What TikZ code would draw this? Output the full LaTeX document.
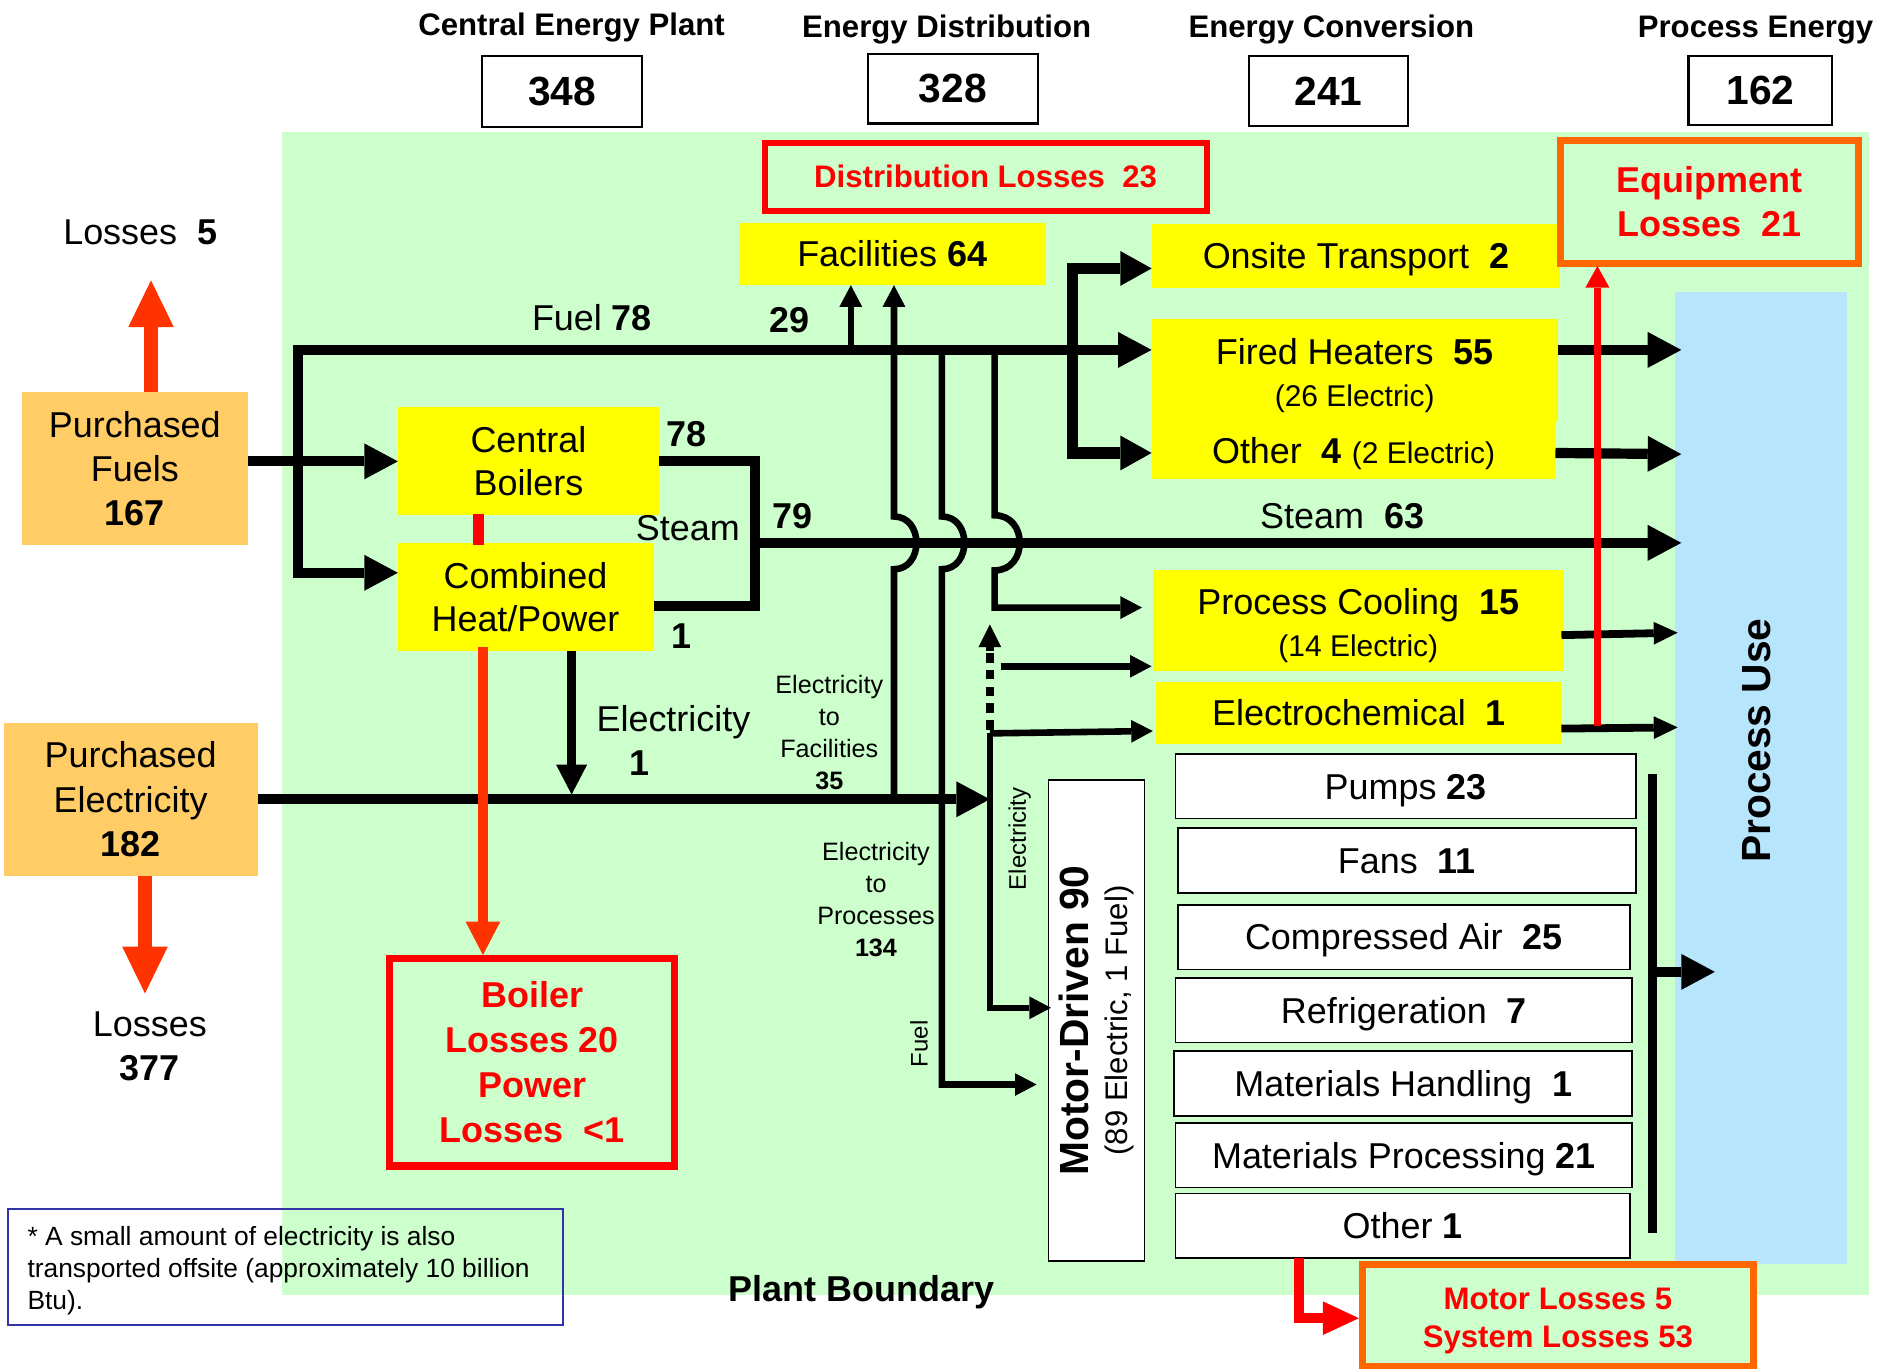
\documentclass[tikz,border=0pt]{standalone}
\usepackage{fontspec}
\setmainfont{Liberation Sans}
\usetikzlibrary{arrows.meta}
\definecolor{pgreen}{RGB}{204,255,204}
\definecolor{pyellow}{RGB}{255,255,0}
\definecolor{porange}{RGB}{255,204,102}
\definecolor{pblue}{RGB}{183,229,252}
\definecolor{lossred}{RGB}{255,0,0}
\definecolor{arrred}{RGB}{255,51,0}
\definecolor{lossorange}{RGB}{255,102,0}
\definecolor{noteblue}{RGB}{51,51,170}
\tikzset{
 fA/.style={font=\fontsize{30}{37}\selectfont},
 fAb/.style={font=\fontsize{30}{37}\selectfont\bfseries},
 fsm/.style={font=\fontsize{21}{26.7}\selectfont},
 hdr/.style={font=\fontsize{26}{30}\selectfont\bfseries},
 capc/.style={text height=21.5pt, text depth=0pt},
 numbox/.style={draw=black, line width=1.8, fill=white, font=\fontsize{34}{40}\selectfont\bfseries},
 ybox/.style={fill=pyellow, align=center, font=\fontsize{30}{36}\selectfont},
 obox/.style={fill=porange, align=center, font=\fontsize{30}{37}\selectfont},
 wbox/.style={fill=white, draw=black, line width=1.5, align=center, font=\fontsize{30}{37}\selectfont},
 lossbox/.style={fill=pgreen, align=center, text=lossred},
 bigarrow/.style={line width=8.5, -{Triangle[length=28pt,width=30pt,line width=0pt]}},
 smallarrow/.style={line width=5.5, -{Triangle[length=18pt,width=19pt,line width=0pt]}},
 midarrow/.style={line width=6.5, -{Triangle[length=20pt,width=19pt,line width=0pt]}},
 thickline/.style={line width=8.5},
}
\begin{document}
\begin{tikzpicture}[x=1pt,y=-1pt, every node/.style={inner sep=0pt,outer sep=0pt}]
\useasboundingbox (0,0) rectangle (1568,1141.6);
\fill[white] (0,0) rectangle (1568,1141.6);
% plant boundary and process use
\fill[pgreen] (235,110) rectangle (1560,1081);
\node[fill=pblue, minimum width=143, minimum height=811] (pu) at (1469.5,649.5) {};
\node[font=\fontsize{34}{40}\selectfont\bfseries, rotate=90] (putxt) at (1466,618) {Process Use};
\node[fAb] (pb) at (719,1078) {Plant Boundary};

% headers
\node[hdr] (t1) at (477,23) {Central Energy Plant};
\node[hdr] (t2) at (790,25) {Energy Distribution};
\node[hdr] (t3) at (1111,25) {Energy Conversion};
\node[hdr] (t4) at (1465,25) {Process Energy};
\node[numbox, minimum width=134, minimum height=59] (n1) at (469,76.5) {348};
\node[numbox, minimum width=142, minimum height=58] (n2) at (795,74) {328};
\node[numbox, minimum width=133, minimum height=58] (n3) at (1108.5,76) {241};
\node[numbox, minimum width=120, minimum height=57] (n4) at (1469,75.5) {162};

% purchased
\node[obox, minimum width=189, minimum height=128] (pf) at (112.5,391) {Purchased\\Fuels\\\textbf{167}};
\node[obox, minimum width=212, minimum height=128] (pe) at (109,667) {Purchased\\Electricity\\\textbf{182}};
\node[fA] (l5) at (117,194) {Losses~~\textbf{5}};
\node[fA, align=center] (l377) at (125,873) {Losses\\\textbf{377}};

% central plant
\node[ybox, minimum width=218, minimum height=90] (cb) at (441,385) {Central\\Boilers};
\node[ybox, minimum width=213, minimum height=90] (chp) at (438.5,498) {Combined\\Heat/Power};
\node[lossbox, draw=lossred, line width=6, minimum width=238, minimum height=173, font=\fontsize{30}{37.5}\selectfont\bfseries] (bl) at (444,886.5) {Boiler\\Losses 20\\Power\\Losses~~<1};

% distribution
\node[ybox, capc, minimum width=255, minimum height=52] (fac) at (744.5,212) {Facilities \textbf{64}};
\node[lossbox, draw=lossred, line width=5, minimum width=369, minimum height=57, font=\fontsize{26}{32}\selectfont\bfseries] (dl) at (822.5,147.5) {Distribution Losses~~23};

% conversion
\node[ybox, capc, minimum width=341, minimum height=53] (ot) at (1131.5,213.5) {Onsite Transport~~\textbf{2}};
\node[ybox, minimum width=339, minimum height=86] (fh) at (1130.5,309.5) {};
\node[font=\fontsize{30}{35}\selectfont, align=center] (fhtxt) at (1130.5,313.5) {Fired Heaters~~\textbf{55}\\{\fontsize{25}{30}\selectfont(26 Electric)}};
\node[ybox, capc, minimum width=337, minimum height=48] (oth) at (1129.5,376) {Other~~\textbf{4} {\fontsize{25}{30}\selectfont(2 Electric)}};
\node[ybox, minimum width=343, minimum height=84] (pc) at (1133.5,518) {};
\node[font=\fontsize{30}{35}\selectfont, align=center] (pctxt) at (1133.5,522) {Process Cooling~~\textbf{15}\\{\fontsize{25}{30}\selectfont(14 Electric)}};
\node[ybox, capc, minimum width=338, minimum height=52] (ec) at (1134,595) {Electrochemical~~\textbf{1}};
\node[lossbox, draw=lossorange, line width=6, minimum width=249, minimum height=103, font=\fontsize{30}{37}\selectfont\bfseries] (el) at (1426.5,168.5) {Equipment\\Losses~~21};

% motor driven
\node[wbox, rotate=90, minimum width=401, minimum height=80, font=\fontsize{26}{32}\selectfont] (md) at (915,851.5) {{\fontsize{34}{40}\selectfont\bfseries Motor-Driven 90}\\(89 Electric, 1 Fuel)};
\node[wbox, capc, minimum width=384, minimum height=54] (m1) at (1173,656) {Pumps \textbf{23}};
\node[wbox, capc, minimum width=382, minimum height=54] (m2) at (1174,718) {Fans~~\textbf{11}};
\node[wbox, capc, minimum width=377, minimum height=54] (m3) at (1171.5,782) {Compressed Air~~\textbf{25}};
\node[wbox, capc, minimum width=381, minimum height=54] (m4) at (1171.5,843) {Refrigeration~~\textbf{7}};
\node[wbox, capc, minimum width=382, minimum height=54] (m5) at (1171,904) {Materials Handling~~\textbf{1}};
\node[wbox, capc, minimum width=381, minimum height=54] (m6) at (1171.5,964) {Materials Processing \textbf{21}};
\node[wbox, capc, minimum width=379, minimum height=54] (m7) at (1170.5,1023) {Other \textbf{1}};
\node[lossbox, draw=lossorange, line width=6, minimum width=326, minimum height=85] (ml) at (1300,1097.5) {};
\node[text=lossred, align=center, font=\fontsize{26}{32}\selectfont\bfseries] (mltxt) at (1300,1102.5) {Motor Losses 5\\System Losses 53};

% footnote
\node[draw=noteblue, line width=1.5, minimum width=463, minimum height=97] (fn) at (238.5,1057.5) {};
\node[anchor=west, align=left, font=\fontsize{22}{26.5}\selectfont] (fntxt) at (23,1060.5) {* A small amount of electricity is also\\transported offsite (approximately 10 billion\\Btu).};

% labels
\node[fA] (lfuel) at (494,265) {Fuel \textbf{78}};
\node[fAb] (l29) at (659,267) {29};
\node[fAb] (l78) at (573,362) {78};
\node[fA] (lsteam) at (574,441) {Steam};
\node[fAb] (l79) at (661,431) {79};
\node[fAb] (l1a) at (569,531) {1};
\node[fA] (lelec) at (562,603) {Electricity};
\node[fAb] (l1b) at (534,637) {1};
\node[fsm, align=center] (lef) at (692,611) {Electricity\\to\\Facilities\\\textbf{35}};
\node[fsm, align=center] (lep) at (731,750.5) {Electricity\\to\\Processes\\\textbf{134}};
\node[font=\fontsize{20}{24}\selectfont, rotate=90] (lev) at (851,700) {Electricity};
\node[font=\fontsize{20}{24}\selectfont, rotate=90] (lfv) at (767,871) {Fuel};
\node[fA] (ls63) at (1120,431) {Steam~~\textbf{63}};

% coordinates
\coordinate (jf) at (249,292);
\coordinate (jc) at (249,478);
\coordinate (jo1) at (895,224);
\coordinate (jo2) at (895,378);
\coordinate (e35) at (746,667);
\coordinate (e35t) at (746,238);
\coordinate (ecin) at (962,610);

% fuel connectors
\draw[bigarrow] (pf.east |- cb.west) -- (cb.west);
\draw[line width=8.5, {Triangle[length=28pt,width=30pt,line width=0pt]}-{Triangle[length=28pt,width=30pt,line width=0pt]}] (jf -| fh.west) -- (jf) -- (jc) -- (jc -| chp.west);
\draw[line width=9.5, {Triangle[length=26pt,width=29pt,line width=0pt]}-{Triangle[length=26pt,width=29pt,line width=0pt]}] (jo1 -| ot.west) -- (jo1) -- (jo2) -- (jo2 -| oth.west);
\draw[smallarrow] (710,292) -- (710,238);
% steam bracket and line
\draw[thickline] (cb.east) -- (630,385) -- (630,506) -- (546,506);
\draw[bigarrow] (630,453) -- (1403,453);
% verticals with hops
\draw[smallarrow] (e35) -- (746,475) .. controls (771,475) and (771,431) .. (746,431) -- (e35t);
\draw[smallarrow] (786,292) -- (786,431) .. controls (811,431) and (811,475) .. (786,475) -- (786,905) -- (865,905);
\draw[smallarrow] (830,292) -- (830,430) .. controls (858,430) and (858,476) .. (830,476) -- (830,507) -- (953,507);
% electricity
\draw[bigarrow] (pe.east) -- (826,667);
\draw[line width=7.5, -{Triangle[length=25pt,width=26pt,line width=0pt]}] (477,543) -- (477,663);
\draw[smallarrow] (826,612) -- (826,841) -- (877,841);
\draw[smallarrow] (826,612) -- (ecin);
\draw[line width=6.5, dash pattern=on 8pt off 6pt] (826,609) -- (826,541);
\draw[line width=6.5, -{Triangle[length=19pt,width=19pt,line width=0pt]}] (826,543) -- (826,521);
\draw[smallarrow] (835,556) -- (961,556);
% outputs
\draw[bigarrow] (1300,292) -- (1403,292);
\draw[bigarrow] (1298,378) -- (1403,379);
\draw[midarrow] (1303,530) -- (1400,528);
\draw[midarrow] (1303,608) -- (1400,607);
\draw[line width=7] (1379,646) -- (1379,1029);
\draw[bigarrow] (1379,811) -- (1431,811);
% losses
\draw[lossred, line width=6, -{Triangle[length=18pt,width=20pt,line width=0pt]}] (1333,606) -- (1333,222);
\draw[lossred, line width=9] (399,429) -- (399,455);
\draw[arrred, line width=12.5, -{Triangle[length=39pt,width=38pt,line width=0pt]}] ([xshift=13.5pt]pf.north) -- (126,234);
\draw[arrred, line width=12.5, -{Triangle[length=39pt,width=38pt,line width=0pt]}] ([xshift=12pt]pe.south) -- (121,829);
\draw[arrred, line width=9, -{Triangle[length=28pt,width=29pt,line width=0pt]}] (403,540) -- (403,797);
\draw[lossred, line width=8.5, -{Triangle[length=30pt,width=28pt,line width=0pt]}] (1084,1050) -- (1084,1100) -- (1134,1100);
\end{tikzpicture}
\end{document}
